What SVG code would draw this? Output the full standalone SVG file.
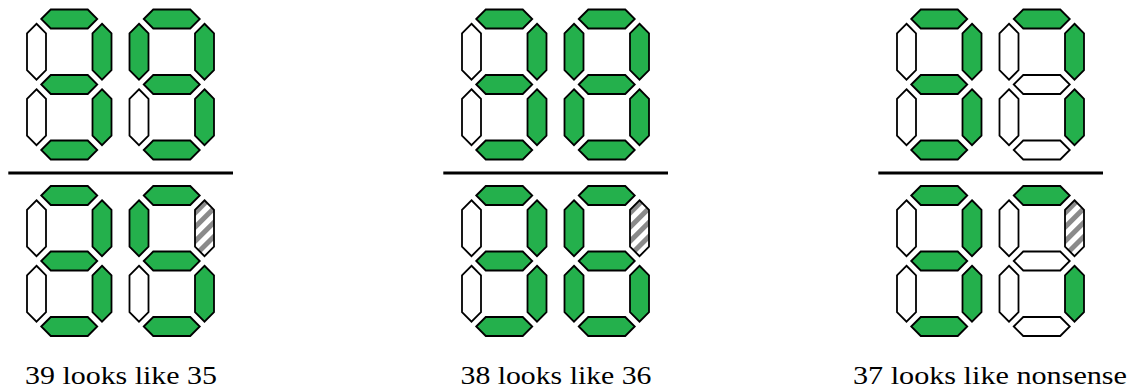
<svg xmlns="http://www.w3.org/2000/svg" xmlns:xlink="http://www.w3.org/1999/xlink" width="1130" height="390" viewBox="0 0 1130 390">
<style>
.seg{stroke:#000;stroke-width:1.8;stroke-linejoin:miter}
.on{fill:#24b04c}
.off{fill:#fff}
.hat{fill:url(#hatch)}
.bar{stroke:#000;stroke-width:3}
.lbl{font-family:"Liberation Serif",serif;font-size:25px;fill:#000;text-anchor:middle}
</style>
<defs>
<polygon id="h" class="seg" points="-28,0 -18.5,-9.5 18.5,-9.5 28,0 18.5,9.5 -18.5,9.5"/>
<polygon id="v" class="seg" points="0,-28 9.5,-18.5 9.5,18.5 0,28 -9.5,18.5 -9.5,-18.5"/>
<pattern id="hatch" width="10" height="10" patternUnits="userSpaceOnUse" patternTransform="rotate(45)">
<rect width="10" height="10" fill="#fff"/>
<rect width="5" height="10" fill="#8a8a8a"/>
</pattern>
</defs>

<g id="connectors">
<line class="bar" x1="8.3" y1="173" x2="233" y2="173"/>
<line class="bar" x1="443.3" y1="173" x2="668" y2="173"/>
<line class="bar" x1="878.3" y1="173" x2="1103" y2="173"/>
</g>

<!-- Group 1: 39 / 35 -->
<g id="g1-top-d1" transform="translate(36.5,19)">
<use href="#h" x="32.75" y="0" class="on"/>
<use href="#v" x="65.5" y="32.75" class="on"/>
<use href="#v" x="65.5" y="98.25" class="on"/>
<use href="#h" x="32.75" y="131" class="on"/>
<use href="#v" x="0" y="98.25" class="off"/>
<use href="#v" x="0" y="32.75" class="off"/>
<use href="#h" x="32.75" y="65.5" class="on"/>
</g>
<g id="g1-top-d2" transform="translate(139,19)">
<use href="#h" x="32.75" y="0" class="on"/>
<use href="#v" x="65.5" y="32.75" class="on"/>
<use href="#v" x="65.5" y="98.25" class="on"/>
<use href="#h" x="32.75" y="131" class="on"/>
<use href="#v" x="0" y="98.25" class="off"/>
<use href="#v" x="0" y="32.75" class="on"/>
<use href="#h" x="32.75" y="65.5" class="on"/>
</g>
<g id="g1-bot-d1" transform="translate(36.5,195.5)">
<use href="#h" x="32.75" y="0" class="on"/>
<use href="#v" x="65.5" y="32.75" class="on"/>
<use href="#v" x="65.5" y="98.25" class="on"/>
<use href="#h" x="32.75" y="131" class="on"/>
<use href="#v" x="0" y="98.25" class="off"/>
<use href="#v" x="0" y="32.75" class="off"/>
<use href="#h" x="32.75" y="65.5" class="on"/>
</g>
<g id="g1-bot-d2" transform="translate(139,195.5)">
<use href="#h" x="32.75" y="0" class="on"/>
<use href="#v" x="65.5" y="32.75" class="hat"/>
<use href="#v" x="65.5" y="98.25" class="on"/>
<use href="#h" x="32.75" y="131" class="on"/>
<use href="#v" x="0" y="98.25" class="off"/>
<use href="#v" x="0" y="32.75" class="on"/>
<use href="#h" x="32.75" y="65.5" class="on"/>
</g>
<text id="label1" class="lbl" x="121" y="384" textLength="192" lengthAdjust="spacingAndGlyphs">39 looks like 35</text>

<!-- Group 2: 38 / 36 -->
<g id="g2-top-d1" transform="translate(471.5,19)">
<use href="#h" x="32.75" y="0" class="on"/>
<use href="#v" x="65.5" y="32.75" class="on"/>
<use href="#v" x="65.5" y="98.25" class="on"/>
<use href="#h" x="32.75" y="131" class="on"/>
<use href="#v" x="0" y="98.25" class="off"/>
<use href="#v" x="0" y="32.75" class="off"/>
<use href="#h" x="32.75" y="65.5" class="on"/>
</g>
<g id="g2-top-d2" transform="translate(574,19)">
<use href="#h" x="32.75" y="0" class="on"/>
<use href="#v" x="65.5" y="32.75" class="on"/>
<use href="#v" x="65.5" y="98.25" class="on"/>
<use href="#h" x="32.75" y="131" class="on"/>
<use href="#v" x="0" y="98.25" class="on"/>
<use href="#v" x="0" y="32.75" class="on"/>
<use href="#h" x="32.75" y="65.5" class="on"/>
</g>
<g id="g2-bot-d1" transform="translate(471.5,195.5)">
<use href="#h" x="32.75" y="0" class="on"/>
<use href="#v" x="65.5" y="32.75" class="on"/>
<use href="#v" x="65.5" y="98.25" class="on"/>
<use href="#h" x="32.75" y="131" class="on"/>
<use href="#v" x="0" y="98.25" class="off"/>
<use href="#v" x="0" y="32.75" class="off"/>
<use href="#h" x="32.75" y="65.5" class="on"/>
</g>
<g id="g2-bot-d2" transform="translate(574,195.5)">
<use href="#h" x="32.75" y="0" class="on"/>
<use href="#v" x="65.5" y="32.75" class="hat"/>
<use href="#v" x="65.5" y="98.25" class="on"/>
<use href="#h" x="32.75" y="131" class="on"/>
<use href="#v" x="0" y="98.25" class="on"/>
<use href="#v" x="0" y="32.75" class="on"/>
<use href="#h" x="32.75" y="65.5" class="on"/>
</g>
<text id="label2" class="lbl" x="556" y="384" textLength="191" lengthAdjust="spacingAndGlyphs">38 looks like 36</text>

<!-- Group 3: 37 / nonsense -->
<g id="g3-top-d1" transform="translate(906.5,19)">
<use href="#h" x="32.75" y="0" class="on"/>
<use href="#v" x="65.5" y="32.75" class="on"/>
<use href="#v" x="65.5" y="98.25" class="on"/>
<use href="#h" x="32.75" y="131" class="on"/>
<use href="#v" x="0" y="98.25" class="off"/>
<use href="#v" x="0" y="32.75" class="off"/>
<use href="#h" x="32.75" y="65.5" class="on"/>
</g>
<g id="g3-top-d2" transform="translate(1009,19)">
<use href="#h" x="32.75" y="0" class="on"/>
<use href="#v" x="65.5" y="32.75" class="on"/>
<use href="#v" x="65.5" y="98.25" class="on"/>
<use href="#h" x="32.75" y="131" class="off"/>
<use href="#v" x="0" y="98.25" class="off"/>
<use href="#v" x="0" y="32.75" class="off"/>
<use href="#h" x="32.75" y="65.5" class="off"/>
</g>
<g id="g3-bot-d1" transform="translate(906.5,195.5)">
<use href="#h" x="32.75" y="0" class="on"/>
<use href="#v" x="65.5" y="32.75" class="on"/>
<use href="#v" x="65.5" y="98.25" class="on"/>
<use href="#h" x="32.75" y="131" class="on"/>
<use href="#v" x="0" y="98.25" class="off"/>
<use href="#v" x="0" y="32.75" class="off"/>
<use href="#h" x="32.75" y="65.5" class="on"/>
</g>
<g id="g3-bot-d2" transform="translate(1009,195.5)">
<use href="#h" x="32.75" y="0" class="on"/>
<use href="#v" x="65.5" y="32.75" class="hat"/>
<use href="#v" x="65.5" y="98.25" class="on"/>
<use href="#h" x="32.75" y="131" class="off"/>
<use href="#v" x="0" y="98.25" class="off"/>
<use href="#v" x="0" y="32.75" class="off"/>
<use href="#h" x="32.75" y="65.5" class="off"/>
</g>
<text id="label3" class="lbl" x="990" y="384" textLength="274" lengthAdjust="spacingAndGlyphs">37 looks like nonsense</text>
</svg>
